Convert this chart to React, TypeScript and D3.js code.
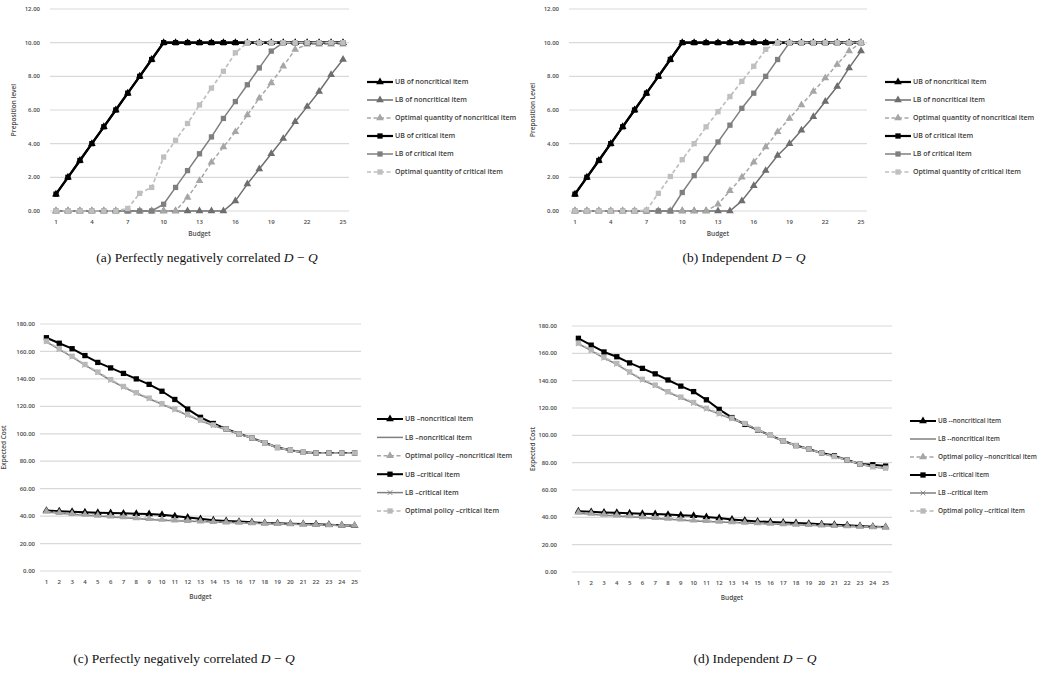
import React from 'react';
import * as d3 from 'd3';

// budget categories (x axis)
const budget = [1, 2, 3, 4, 5, 6, 7, 8, 9, 10, 11, 12, 13, 14, 15, 16, 17, 18, 19, 20, 21, 22, 23, 24, 25];

// (a) perfectly negatively correlated, preposition level
const aUbNon = [1, 2, 3, 4, 5, 6, 7, 8, 9, 10, 10, 10, 10, 10, 10, 10, 10, 10, 10, 10, 10, 10, 10, 10, 10];
const aLbNon = [0, 0, 0, 0, 0, 0, 0, 0, 0, 0, 0, 0, 0, 0, 0, 0.6, 1.6, 2.5, 3.4, 4.3, 5.3, 6.2, 7.1, 8.1, 9.0];
const aOptNon = [0, 0, 0, 0, 0, 0, 0, 0, 0, 0, 0, 0.8, 1.8, 2.9, 3.8, 4.7, 5.7, 6.7, 7.6, 8.6, 9.6, 9.9, 9.9, 9.9, 9.9];
const aUbCrit = [1, 2, 3, 4, 5, 6, 7, 8, 9, 10, 10, 10, 10, 10, 10, 10, 10, 10, 10, 10, 10, 10, 10, 10, 10];
const aLbCrit = [0, 0, 0, 0, 0, 0, 0, 0, 0, 0.4, 1.4, 2.4, 3.4, 4.4, 5.5, 6.5, 7.5, 8.5, 9.5, 10, 10, 10, 10, 10, 10];
const aOptCrit = [0, 0, 0, 0, 0, 0, 0.15, 1.05, 1.4, 3.2, 4.2, 5.2, 6.3, 7.3, 8.3, 9.4, 10, 10, 10, 10, 10, 10, 10, 10, 10];

// (b) independent, preposition level
const bUbNon = [1, 2, 3, 4, 5, 6, 7, 8, 9, 10, 10, 10, 10, 10, 10, 10, 10, 10, 10, 10, 10, 10, 10, 10, 10];
const bLbNon = [0, 0, 0, 0, 0, 0, 0, 0, 0, 0, 0, 0, 0, 0, 0.6, 1.5, 2.4, 3.3, 4.0, 4.8, 5.6, 6.5, 7.4, 8.5, 9.5];
const bOptNon = [0, 0, 0, 0, 0, 0, 0, 0, 0, 0, 0, 0, 0.4, 1.2, 2.0, 2.9, 3.8, 4.7, 5.5, 6.3, 7.1, 7.9, 8.7, 9.5, 10];
const bUbCrit = [1, 2, 3, 4, 5, 6, 7, 8, 9, 10, 10, 10, 10, 10, 10, 10, 10, 10, 10, 10, 10, 10, 10, 10, 10];
const bLbCrit = [0, 0, 0, 0, 0, 0, 0, 0, 0, 1.1, 2.1, 3.1, 4.1, 5.1, 6.1, 7.0, 8.0, 9.0, 10, 10, 10, 10, 10, 10, 10];
const bOptCrit = [0, 0, 0, 0, 0, 0, 0.05, 1.05, 2.05, 3.05, 4.0, 5.0, 5.9, 6.8, 7.7, 8.6, 9.6, 10, 10, 10, 10, 10, 10, 10, 10];

// (c) perfectly negatively correlated, expected cost
const cUbNon = [44, 43.6, 43.2, 42.8, 42.5, 42.2, 42, 41.8, 41.5, 41, 40, 39, 38, 37, 36.5, 36, 35.5, 35, 34.8, 34.5, 34.2, 34, 33.7, 33.4, 33];
const cLbNon = [43, 42, 41.3, 40.6, 40, 39.4, 38.8, 38.2, 37.6, 37, 36.6, 36.3, 36, 35.7, 35.4, 35.1, 34.8, 34.5, 34.3, 34, 33.8, 33.6, 33.4, 33.2, 33];
const cOptNon = [43.4, 42.5, 41.8, 41.1, 40.5, 39.9, 39.3, 38.7, 38.1, 37.5, 37, 36.6, 36.2, 35.9, 35.6, 35.3, 35, 34.7, 34.5, 34.2, 34, 33.8, 33.6, 33.4, 33.1];
const cUbCrit = [170, 166, 162, 157, 152, 148, 144, 140, 136, 131, 125, 118, 112, 107.5, 103.5, 100, 97, 93.5, 90, 88, 86.5, 86, 86, 86, 86];
const cLbCrit = [167, 161.5, 156, 150, 144.5, 139, 134, 129.5, 125.5, 121.5, 117.5, 113.5, 109.5, 106, 103, 99.8, 96.8, 93.3, 89.8, 87.8, 86.3, 85.8, 85.8, 85.8, 85.8];
const cOptCrit = [167.5, 162, 156.5, 150.5, 145, 139.5, 134.5, 130, 126, 122, 118, 114, 110, 106.5, 103.5, 100, 97, 93.5, 90, 88, 86.5, 86, 86, 86, 86];

// (d) independent, expected cost
const dUbNon = [44.5, 44, 43.6, 43.3, 43, 42.7, 42.4, 42, 41.6, 41.2, 40.3, 39.5, 38.5, 37.7, 37, 36.6, 36.2, 35.8, 35.4, 35, 34.6, 34.2, 33.6, 33.2, 33];
const dLbNon = [43, 42.3, 41.6, 41, 40.4, 39.8, 39.2, 38.6, 38, 37.4, 37, 36.6, 36.2, 35.8, 35.4, 35.1, 34.8, 34.5, 34.2, 33.9, 33.6, 33.3, 33, 32.8, 32.6];
const dOptNon = [43.5, 42.8, 42.1, 41.5, 40.9, 40.3, 39.7, 39.1, 38.5, 37.9, 37.4, 37, 36.6, 36.2, 35.8, 35.4, 35.1, 34.8, 34.5, 34.2, 33.9, 33.6, 33.3, 33, 32.8];
const dUbCrit = [171, 166, 161, 157.5, 153, 149, 145, 140.5, 136, 132, 126, 119, 113, 108, 104, 100, 96, 92.5, 90, 87, 85, 82, 79, 78.5, 77.5];
const dLbCrit = [167, 162, 156.5, 152, 146, 140.5, 136.3, 131.5, 127.5, 123.5, 119.3, 115.5, 112, 108.3, 104, 99.8, 95.8, 92.3, 89.8, 86.8, 84.3, 81.8, 78.8, 76.8, 75.8];
const dOptCrit = [167.5, 162.5, 157, 152.6, 146.4, 141, 136.8, 132, 128, 124, 119.8, 116, 112.5, 108.7, 104.4, 100, 96, 92.5, 90, 87, 84.5, 82, 79, 77, 76];

const labelsA = ['UB of noncritical item', 'LB of noncritical item', 'Optimal quantity of noncritical item', 'UB of critical item', 'LB of critical item', 'Optimal quantity of critical item'];
const labelsC = ['UB \u2013noncritical item', 'LB \u2013noncritical item', 'Optimal policy \u2013noncritical item', 'UB \u2013critical item', 'LB \u2013critical item', 'Optimal policy \u2013critical item'];
const labelsD = ['UB --noncritical item', 'LB --noncritical item', 'Optimal policy --noncritical item', 'UB --critical item', 'LB --critical item', 'Optimal policy --critical item'];

type Marker = 'square' | 'triangle' | 'star' | 'none';
type Style = { color: string; width: number; dash?: string; marker: Marker };

// styles for the six series, legend order
const levelStyles: Style[] = [
  { color: '#000', width: 2.2, marker: 'triangle' },
  { color: '#6e6e6e', width: 1.5, marker: 'triangle' },
  { color: '#a6a6a6', width: 1.5, dash: '4,2.5', marker: 'triangle' },
  { color: '#000', width: 2.2, marker: 'square' },
  { color: '#7f7f7f', width: 1.5, marker: 'square' },
  { color: '#bfbfbf', width: 1.7, dash: '4,2.5', marker: 'square' },
];
const costStyles: Style[] = [
  { color: '#000', width: 2, marker: 'triangle' },
  { color: '#7f7f7f', width: 1.5, marker: 'none' },
  { color: '#a6a6a6', width: 1.5, dash: '4,2.5', marker: 'triangle' },
  { color: '#000', width: 2, marker: 'square' },
  { color: '#7f7f7f', width: 1.5, marker: 'star' },
  { color: '#b8b8b8', width: 1.7, dash: '4,2.5', marker: 'square' },
];

const fontSans = '"Open Sans", "Liberation Sans", sans-serif';

function markerPath(m: Marker) {
  if (m === 'square') return d3.symbol(d3.symbolSquare, 28)() as string;
  if (m === 'triangle') return d3.symbol(d3.symbolTriangle, 26)() as string;
  if (m === 'star') return d3.symbol(d3.symbolTimes, 16)() as string;
  return '';
}

type PanelProps = {
  series: number[][];
  styles: Style[];
  labels: string[];
  xRange: [number, number];
  yRange: [number, number];
  yMax: number;
  yStep: number;
  tickEvery: number;
  yLabelX: number;
  yTitle: string;
  yTitleX: number;
  tickY: number;
  budgetY: number;
  legendX: number;
  legendY: number;
  legendStep: number;
  legendFont?: number;
};

function Panel(p: PanelProps) {
  const x = d3.scaleBand<number>().domain(budget).range(p.xRange);
  const y = d3.scaleLinear().domain([0, p.yMax]).range(p.yRange);
  const cx = (b: number) => (x(b) as number) + x.bandwidth() / 2;
  const line = d3.line<number>().x((_, i) => cx(budget[i])).y(v => y(v));
  const yTicks = d3.range(0, p.yMax + 0.001, p.yStep);
  const midY = (p.yRange[0] + p.yRange[1]) / 2;
  return (
    <g>
      {yTicks.map(t => (
        <g key={t}>
          <line x1={p.xRange[0]} x2={p.xRange[1]} y1={y(t)} y2={y(t)} stroke="#d9d9d9" strokeWidth={1.2} />
          <text x={p.yLabelX} y={y(t)} dy="0.35em" textAnchor="end" fontSize={6} fontWeight={600} fill="#4a4a4a" fontFamily={fontSans}>
            {t.toFixed(2)}
          </text>
        </g>
      ))}
      {budget.filter((_, i) => i % p.tickEvery === 0).map(b => (
        <text key={b} x={cx(b)} y={p.tickY} dy="0.35em" textAnchor="middle" fontSize={6} fontWeight={600} fill="#4a4a4a" fontFamily={fontSans}>
          {b}
        </text>
      ))}
      <text x={(p.xRange[0] + p.xRange[1]) / 2} y={p.budgetY} dy="0.35em" textAnchor="middle" fontSize={6.5} fontWeight={600} fill="#4a4a4a" fontFamily={fontSans}>
        Budget
      </text>
      <text transform={`translate(${p.yTitleX},${midY}) rotate(-90)`} textAnchor="middle" dy="0.35em" fontSize={6.5} fontWeight={600} fill="#4a4a4a" fontFamily={fontSans}>
        {p.yTitle}
      </text>
      {p.series.map((vals, si) => {
        const st = p.styles[si];
        const mp = markerPath(st.marker);
        return (
          <g key={si}>
            <path d={line(vals) as string} fill="none" stroke={st.color} strokeWidth={st.width} strokeDasharray={st.dash} strokeLinejoin="round" />
            {mp && vals.map((v, i) => (
              <path key={i} d={mp} transform={`translate(${cx(budget[i])},${y(v)})`} fill={st.color} stroke={st.marker === 'star' ? st.color : 'none'} strokeWidth={0.9} />
            ))}
          </g>
        );
      })}
      {p.labels.map((lab, i) => {
        const st = p.styles[i];
        const ly = p.legendY + i * p.legendStep;
        const mp = markerPath(st.marker);
        return (
          <g key={lab}>
            <line x1={p.legendX} x2={p.legendX + 26} y1={ly} y2={ly} stroke={st.color} strokeWidth={st.width} strokeDasharray={st.dash} />
            {mp && <path d={mp} transform={`translate(${p.legendX + 13},${ly})`} fill={st.color} stroke={st.marker === 'star' ? st.color : 'none'} strokeWidth={0.9} />}
            <text x={p.legendX + 28} y={ly} dy="0.35em" fontSize={p.legendFont ?? 7} fontWeight={600} fill="#3a3a3a" fontFamily={fontSans}>
              {lab}
            </text>
          </g>
        );
      })}
    </g>
  );
}

function Caption({ x, y, tag, text }: { x: number; y: number; tag: string; text: string }) {
  return (
    <text x={x} y={y} textAnchor="middle" fontSize={13.5} fontFamily='"Liberation Serif", "DejaVu Serif", serif' fill="#111">
      {`(${tag}) ${text} `}
      <tspan fontStyle="italic">D</tspan>
      {' \u2212 '}
      <tspan fontStyle="italic">Q</tspan>
    </text>
  );
}

export default function App() {
  return (
    <svg width={1042} height={673} style={{ position: 'absolute', left: 0, top: 0, background: '#fff' }}>
      <rect width={1042} height={673} fill="#fff" />
      <Panel
        series={[aUbNon, aLbNon, aOptNon, aUbCrit, aLbCrit, aOptCrit]}
        styles={levelStyles} labels={labelsA}
        xRange={[50, 349]} yRange={[211, 9]} yMax={12} yStep={2} tickEvery={3}
        yLabelX={40} yTitle="Preposition level" yTitleX={14} tickY={222} budgetY={234}
        legendX={367} legendY={82} legendStep={18}
      />
      <Panel
        series={[bUbNon, bLbNon, bOptNon, bUbCrit, bLbCrit, bOptCrit]}
        styles={levelStyles} labels={labelsA}
        xRange={[569, 867]} yRange={[211, 9]} yMax={12} yStep={2} tickEvery={3}
        yLabelX={559} yTitle="Preposition Level" yTitleX={533} tickY={222} budgetY={234}
        legendX={885} legendY={82} legendStep={18}
      />
      <Panel
        series={[cUbNon, cLbNon, cOptNon, cUbCrit, cLbCrit, cOptCrit]}
        styles={costStyles} labels={labelsC}
        xRange={[40, 361]} yRange={[571, 324]} yMax={180} yStep={20} tickEvery={1}
        yLabelX={35} yTitle="Expected Cost" yTitleX={4} tickY={582} budgetY={597}
        legendX={377} legendY={419} legendStep={18.4}
      />
      <Panel
        series={[dUbNon, dLbNon, dOptNon, dUbCrit, dLbCrit, dOptCrit]}
        styles={costStyles} labels={labelsD}
        xRange={[572, 892]} yRange={[572, 326]} yMax={180} yStep={20} tickEvery={1}
        yLabelX={557} yTitle="Expected Cost" yTitleX={533} tickY={583} budgetY={598}
        legendX={910} legendY={421} legendStep={18} legendFont={6.4}
      />
      <Caption x={207} y={262} tag="a" text="Perfectly negatively correlated" />
      <Caption x={744} y={262} tag="b" text="Independent" />
      <Caption x={184} y={663} tag="c" text="Perfectly negatively correlated" />
      <Caption x={755} y={663} tag="d" text="Independent" />
    </svg>
  );
}
